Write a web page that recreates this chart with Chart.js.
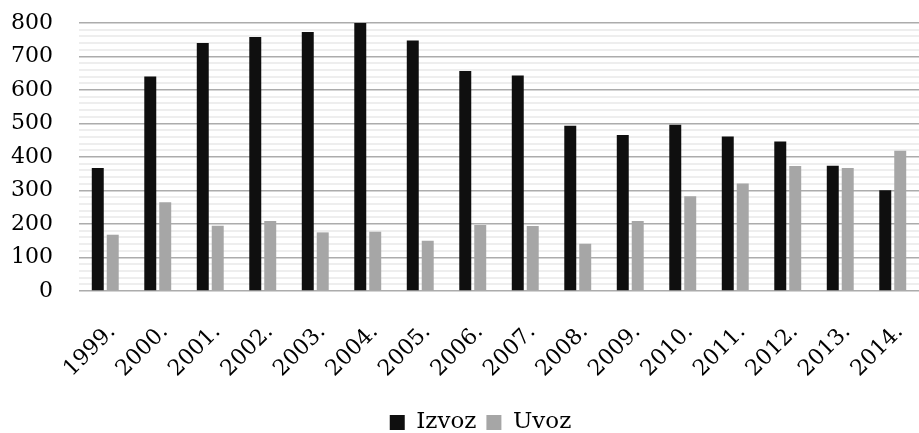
<!DOCTYPE html>
<html>
<head>
<meta charset="utf-8">
<script src="https://cdn.jsdelivr.net/npm/chart.js@4"></script>
<style>
  html, body { margin: 0; padding: 0; background: #fff; }
  #wrap { width: 919px; height: 433px; }
</style>
</head>
<body>
<div id="wrap"><canvas id="tradeChart" width="919" height="433"></canvas></div>
<script>
const years = ["1999.", "2000.", "2001.", "2002.", "2003.", "2004.", "2005.", "2006.",
  "2007.", "2008.", "2009.", "2010.", "2011.", "2012.", "2013.", "2014."];
const izvoz = [367, 640, 740, 758, 773, 800, 748, 657, 643, 493, 466, 496, 461, 446, 374, 301];
const uvoz = [168, 265, 195, 209, 175, 177, 150, 197, 194, 141, 209, 283, 321, 373, 367, 419];

const font = "'DejaVu Serif', 'Liberation Serif', serif";

const ctx = document.getElementById("tradeChart").getContext("2d");

// nudge the legend a bit to the right, like in the original
const legendShift = {
  id: "legendShift",
  afterLayout(chart) {
    if (chart.legend) {
      chart.legend.left += 18;
      chart.legend.right += 18;
    }
  }
};

new Chart(ctx, {
  type: "bar",
  data: {
    labels: years,
    datasets: [
      { label: "Izvoz", data: izvoz, backgroundColor: "#0f0f0f" },
      { label: "Uvoz", data: uvoz, backgroundColor: "#a6a6a6" }
    ]
  },
  plugins: [legendShift],
  options: {
    responsive: false,
    animation: false,
    layout: { padding: { left: 6, right: 0, top: 23, bottom: -11 } },
    datasets: {
      bar: { categoryPercentage: 0.57, barPercentage: 0.8 }
    },
    scales: {
      x: {
        grid: { display: false },
        border: { color: "#d4d4d4" },
        ticks: {
          autoSkip: false,
          minRotation: 45,
          maxRotation: 45,
          padding: 20,
          labelOffset: 7,
          color: "#000",
          font: { family: font, size: 22 }
        },
        afterFit: (scale) => {
          scale.height = 110;
          scale.paddingLeft = 0;
          scale.paddingRight = 0;
        }
      },
      y: {
        min: 0,
        max: 800,
        border: { display: false },
        grid: {
          drawTicks: false,
          color: (c) => (c.tick && c.tick.value % 100 === 0 ? "#acacac" : "#eeeeee"),
          lineWidth: (c) => (c.tick && c.tick.value % 100 === 0 ? 1.5 : 2)
        },
        ticks: {
          stepSize: 20,
          autoSkip: false,
          padding: 26,
          color: "#000",
          font: { family: font, size: 22 },
          callback: (v) => (v % 100 === 0 ? v : "")
        },
        afterFit: (scale) => {
          scale.width = 73;
          scale.paddingTop = 0;
          scale.paddingBottom = 0;
        }
      }
    },
    plugins: {
      legend: {
        position: "bottom",
        labels: {
          boxWidth: 15,
          boxHeight: 15,
          padding: 10,
          color: "#000",
          font: { family: font, size: 23 }
        }
      },
      tooltip: { enabled: false }
    }
  }
});
</script>
</body>
</html>
